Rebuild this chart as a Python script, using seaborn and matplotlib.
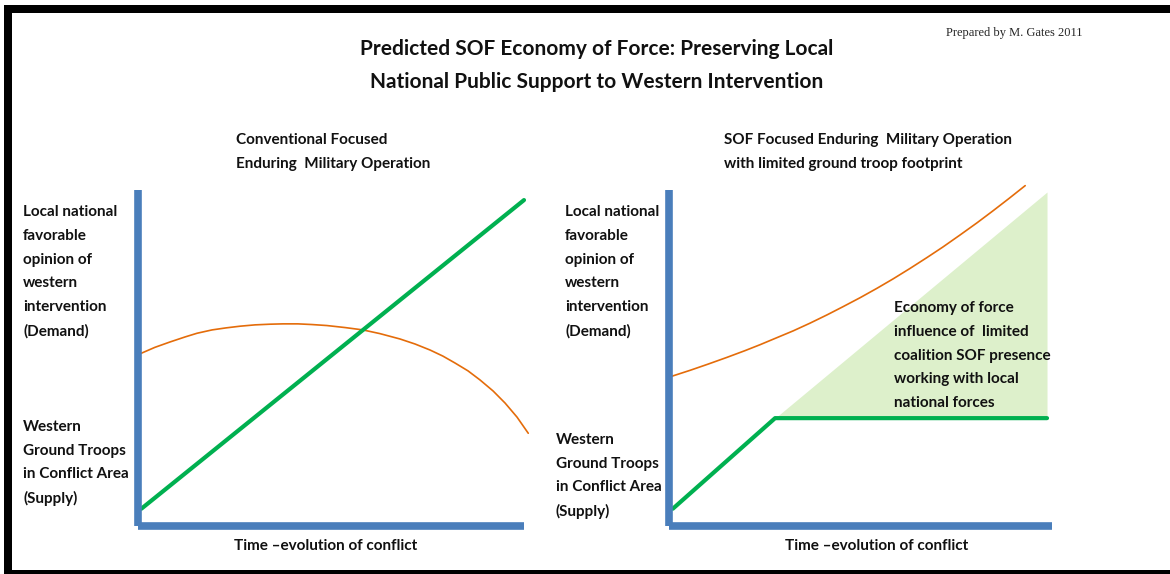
import numpy as np
import pandas as pd
import matplotlib.pyplot as plt
import matplotlib.patches as mpatches
import seaborn as sns

sns.set_style("white")
plt.rcParams['font.family'] = ['Lato', 'DejaVu Sans']

# values (time 0-100, level 0-100)
left_supply_x = [1, 100]
left_supply_y = [5, 97]
left_demand_x = [0.9, 4.5, 8.4, 12.3, 15.4, 19.3, 22.9, 26.5, 30.4, 34.3, 37.6, 41.5, 45.1, 49.0,
                 53.7, 58.3, 62.7, 67.9, 71.8, 75.7, 79.0, 82.2, 85.5, 88.6, 92.0, 95.1, 98.2, 101.1]
left_demand_y = [51.3, 53.1, 54.7, 56.2, 57.3, 58.3, 58.9, 59.4, 59.8, 60.0, 60.1, 60.1, 59.9, 59.6,
                 59.0, 58.3, 57.2, 55.6, 54.1, 52.3, 50.5, 48.4, 46.1, 43.4, 40.1, 36.5, 32.3, 27.5]

right_supply_x = [1, 27.7, 98.7]
right_supply_y = [5, 32, 32]
right_demand_x = [0.5, 5.5, 10.2, 15.1, 19.8, 23.8, 28.2, 32.4, 36.8, 41.3, 45.4,
                  49.9, 54.3, 58.5, 62.9, 67.4, 71.5, 76.0, 80.4, 84.6, 88.8, 93.0]
right_demand_y = [44.4, 46.25, 48.1, 50.1, 52.1, 53.9, 56.0, 58.0, 60.3, 62.8, 65.2,
                  67.9, 70.7, 73.5, 76.6, 79.9, 83.0, 86.6, 90.2, 93.8, 97.5, 101.3]
sof_x = [27.7, 98.7]
sof_low = [32, 32]
sof_high = [32, 99.4]

W, H = 1170, 574
fig = plt.figure(figsize=(W / 100, H / 100), dpi=100)
fig.patch.set_facecolor('white')

def fx(px):
    return px / W

def fy(py):
    return 1 - py / H

blue = '#4a7ebb'
green = '#00b050'
orange = '#e46c0a'

def make_axes(x0, x1):
    ax = fig.add_axes([fx(x0), fy(525.5), fx(x1) - fx(x0), (525.5 - 190) / H])
    ax.set_xlim(0, 100)
    ax.set_ylim(0, 100)
    for s in ['top', 'right']:
        ax.spines[s].set_visible(False)
    for s in ['left', 'bottom']:
        ax.spines[s].set_color(blue)
        ax.spines[s].set_linewidth(5.5)
        ax.spines[s].set_capstyle('butt')
    ax.set_xticks([])
    ax.set_yticks([])
    ax.patch.set_alpha(0)
    return ax

ax1 = make_axes(137.5, 524)
sns.lineplot(x=left_demand_x, y=left_demand_y, ax=ax1, color=orange, lw=1.2, clip_on=False, sort=False)
sns.lineplot(x=left_supply_x, y=left_supply_y, ax=ax1, color=green, lw=3, clip_on=False)

ax2 = make_axes(669, 1052)
ax2.fill_between(sof_x, sof_low, sof_high, color='#ddf0cb', lw=0, zorder=0)
sns.lineplot(x=right_demand_x, y=right_demand_y, ax=ax2, color=orange, lw=1.2, clip_on=False, sort=False)
sns.lineplot(x=right_supply_x, y=right_supply_y, ax=ax2, color=green, lw=3, clip_on=False)
for ax in (ax1, ax2):
    ax.set_xlabel('')
    ax.set_ylabel('')

# frame
for (x, y, w, h) in [(4, 5, 1166, 8), (4, 5, 8, 569), (4, 570, 1166, 4)]:
    fig.add_artist(mpatches.Rectangle((fx(x), fy(y + h)), w / W, h / H,
                                      transform=fig.transFigure, color='black', lw=0))

def block(lines, x, y0, step, size, ha='left', weight='bold', **kw):
    for i, t in enumerate(lines):
        fig.text(fx(x), fy(y0 + i * step), t, ha=ha, va='center',
                 fontsize=size, fontweight=weight, color='#111111', **kw)

block(["Predicted SOF Economy of Force: Preserving Local",
       "National Public Support to Western Intervention"], 597, 49, 33, 15, ha='center')
fig.text(fx(946), fy(33), "Prepared by M. Gates 2011", ha='left', va='center',
         fontsize=9, family='Liberation Serif')

block(["Conventional Focused", "Enduring  Military Operation"], 236, 140, 24, 11)
block(["SOF Focused Enduring  Military Operation", "with limited ground troop footprint"], 724, 140, 24, 11)

demand = ["Local national", "favorable", "opinion of", "western", "intervention", "(Demand)"]
supply = ["Western", "Ground Troops", "in Conflict Area", "(Supply)"]
block(demand, 23, 212, 23.8, 11)
block(supply, 23, 427, 23.7, 11)
block(demand, 565, 212, 23.8, 11)
block(supply, 556, 440, 23.7, 11)

block(["Economy of force", "influence of  limited", "coalition SOF presence",
       "working with local", "national forces"], 894, 308, 23.8, 11)

block(["Time \u2013evolution of conflict"], 326, 546, 0, 11, ha='center')
block(["Time \u2013evolution of conflict"], 877, 546, 0, 11, ha='center')

fig.savefig('out.png', dpi=100)
